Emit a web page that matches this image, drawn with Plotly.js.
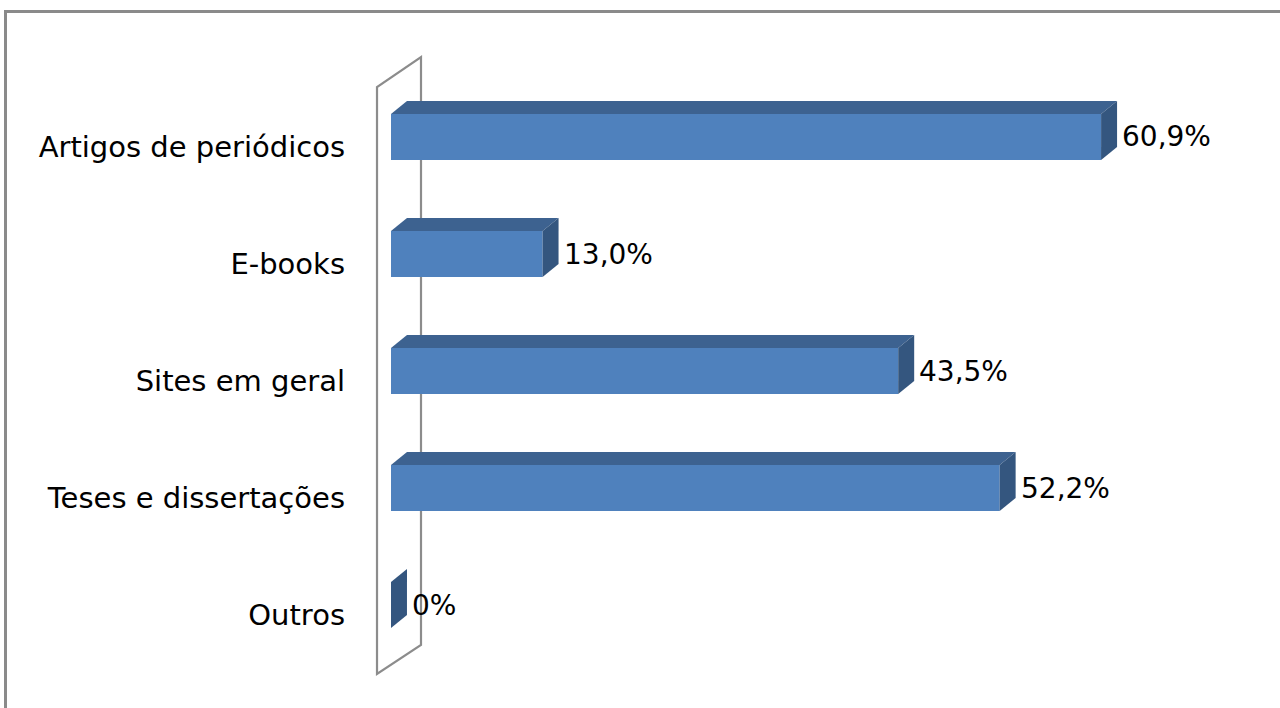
<!DOCTYPE html>
<html>
<head>
<meta charset="utf-8">
<script src="https://cdn.plot.ly/plotly-3.0.1.min.js"></script>
<style>
  html, body { margin: 0; padding: 0; background: #ffffff; }
  #wrap { position: relative; width: 1280px; height: 708px; overflow: hidden; }
  #chart { position: absolute; left: 0; top: 0; width: 1280px; height: 708px; }
  #frame { position: absolute; left: 4px; top: 10px; width: 1400px; height: 800px;
           border-left: 3px solid #8a8a8a; border-top: 3px solid #8a8a8a; pointer-events: none; }
</style>
</head>
<body>
<div id="wrap">
  <div id="chart"></div>
  <div id="frame"></div>
</div>
<script>
// ---- data ----
const categories = ["Artigos de periódicos", "E-books", "Sites em geral", "Teses e dissertações", "Outros"];
const values = [60.9, 13.0, 43.5, 52.2, 0];
const valueLabels = ["60,9%", "13,0%", "43,5%", "52,2%", "0%"];

// ---- styling / geometry (in axis units) ----
const frontColor = "#4F81BD";
const topColor = "#3D6290";
const sideColor = "#34567F";
const wallColor = "#8c8c8c";
const fontFamily = "'DejaVu Sans', Verdana, sans-serif";
const barOffset = -0.282;   // front face starts this far above tick (reversed axis)
const barWidth = 0.393;
const depthX = 1.37;        // depth offset along value axis
const depthY = -0.111;      // depth offset along category axis

const idx = categories.map((_, i) => i);

const trace = {
  type: "bar",
  orientation: "h",
  x: values,
  y: idx,
  offset: barOffset,
  width: barWidth,
  marker: { color: frontColor, line: { width: 0 } },
  hoverinfo: "skip",
  showlegend: false
};

const shapes = [];
// back wall (left side of the 3D frame)
const wallFrontX = -1.2, wallBackX = 2.573;
const wallFrontTop = -0.513, wallFrontBot = 4.504;
const wallBackTop = -0.769, wallBackBot = 4.256;
shapes.push({
  type: "path", layer: "below", xref: "x", yref: "y",
  path: `M ${wallFrontX},${wallFrontBot} L ${wallFrontX},${wallFrontTop} L ${wallBackX},${wallBackTop} L ${wallBackX},${wallBackBot} Z`,
  line: { color: wallColor, width: 2.2 }, fillcolor: "rgba(0,0,0,0)"
});

// 3D top and side faces of each bar, derived from the data
idx.forEach(i => {
  const v = values[i];
  const y0 = i + barOffset;
  const y1 = y0 + barWidth;
  if (v > 0) {
    shapes.push({
      type: "path", layer: "above", xref: "x", yref: "y",
      path: `M 0,${y0} L ${v},${y0} L ${v + depthX},${y0 + depthY} L ${depthX},${y0 + depthY} Z`,
      fillcolor: topColor, line: { width: 0 }
    });
  }
  shapes.push({
    type: "path", layer: "above", xref: "x", yref: "y",
    path: `M ${v},${y0} L ${v + depthX},${y0 + depthY} L ${v + depthX},${y1 + depthY} L ${v},${y1} Z`,
    fillcolor: sideColor, line: { width: 0 }
  });
});

const annotations = idx.map(i => ({
  xref: "x", yref: "y",
  x: values[i] + depthX, y: i + barOffset + barWidth / 2,
  text: valueLabels[i], showarrow: false,
  xanchor: "left", yanchor: "middle", xshift: 3,
  font: { family: fontFamily, size: 28, color: "#000000" }
}));

const pxPerUnitX = 11.66, zeroPx = 391, plotL = 360, plotR = 1270;
const layout = {
  width: 1280, height: 708,
  margin: { l: plotL, r: 1280 - plotR, t: 40, b: 18, pad: 0 },
  paper_bgcolor: "#ffffff", plot_bgcolor: "#ffffff",
  showlegend: false,
  xaxis: {
    range: [(plotL - zeroPx) / pxPerUnitX, (plotR - zeroPx) / pxPerUnitX],
    showgrid: false, zeroline: false, showline: false, showticklabels: false, ticks: ""
  },
  yaxis: {
    range: [4.641, -0.9145],
    tickmode: "array", tickvals: idx, ticktext: categories,
    showgrid: false, zeroline: false, showline: false, ticks: "",
    ticklabelstandoff: 14,
    tickfont: { family: fontFamily, size: 29, color: "#000000" }
  },
  shapes: shapes,
  annotations: annotations
};

Plotly.newPlot("chart", [trace], layout, { displayModeBar: false, staticPlot: true });
</script>
</body>
</html>
